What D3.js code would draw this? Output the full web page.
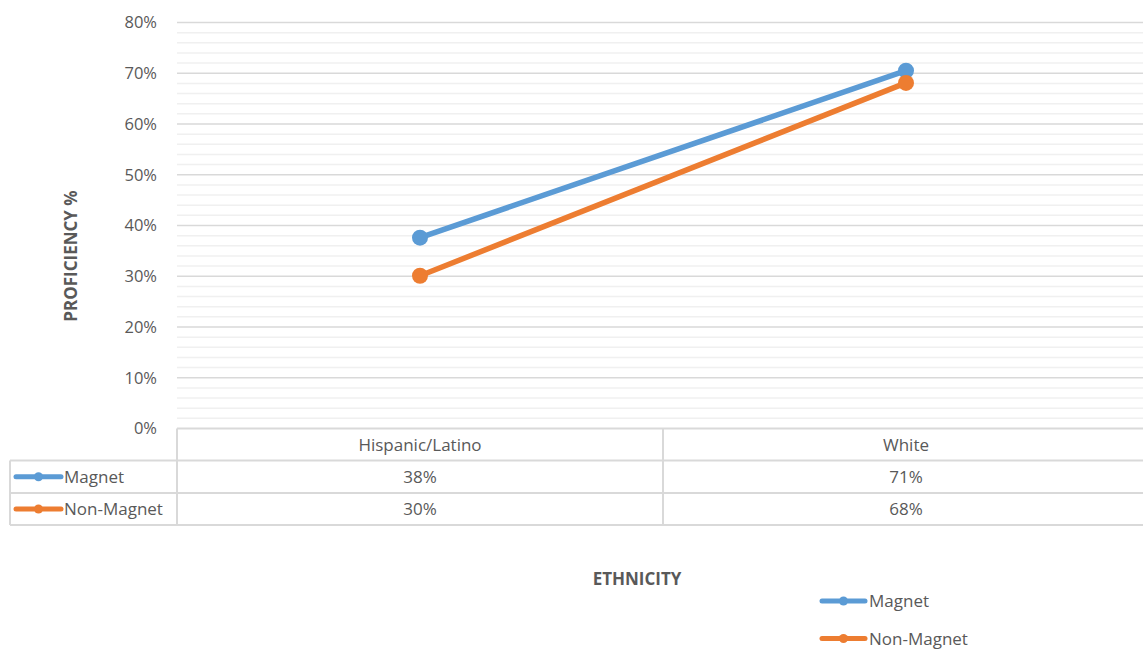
<!DOCTYPE html>
<html><head><meta charset="utf-8">
<script src="https://cdn.jsdelivr.net/npm/d3@7"></script>
<style>body{margin:0;background:#fff;}svg{display:block;font-family:"Open Sans",sans-serif;}</style>
</head><body><svg id="c" width="1143" height="649"></svg>
<script>
const categories = ["Hispanic/Latino", "White"];
const seriesNames = ["Magnet", "Non-Magnet"];
const magnet = [0.376, 0.705];
const nonMagnet = [0.301, 0.681];
const yTicks = [0, 0.1, 0.2, 0.3, 0.4, 0.5, 0.6, 0.7, 0.8];
const colors = ["#5B9BD5", "#ED7D31"];
const series = [magnet, nonMagnet];

const svg = d3.select("#c");
const pLeft = 177, pRight = 1149, pTop = 22.5, pBottom = 428.5;
const x = d3.scaleBand().domain(categories).range([pLeft, pRight]);
const y = d3.scaleLinear().domain([0, 0.8]).range([pBottom, pTop]);
const pct = d3.format(".0%");
const txt = "#595959";
const fs = "17px";

// minor grid
const minor = d3.range(0, 0.8001, 0.02).filter(v => Math.round(v * 100) % 10 !== 0);
svg.append("g").selectAll("line").data(minor).join("line")
  .attr("x1", pLeft).attr("x2", pRight)
  .attr("y1", d => y(d)).attr("y2", d => y(d))
  .attr("stroke", "#f0f0f0").attr("stroke-width", 1.5);
// major grid
svg.append("g").selectAll("line").data(yTicks.filter(d => d > 0)).join("line")
  .attr("x1", pLeft).attr("x2", pRight)
  .attr("y1", d => y(d)).attr("y2", d => y(d))
  .attr("stroke", "#d9d9d9").attr("stroke-width", 1.5);

// y axis labels
const yAxis = d3.axisLeft(y).tickValues(yTicks).tickFormat(pct).tickSize(0).tickPadding(0);
const ga = svg.append("g").attr("transform", `translate(157,0)`).call(yAxis);
ga.select(".domain").remove();
ga.selectAll("text").attr("fill", txt).style("font-size", "16.5px").style("font-family", "'Open Sans',sans-serif");

// y title
svg.append("text").attr("transform", `translate(77,256) rotate(-90)`)
  .attr("text-anchor", "middle").attr("fill", txt)
  .style("font-size", "17px").style("font-weight", "bold").text("PROFICIENCY %");

// lines
const line = d3.line().x((d, i) => x(categories[i]) + x.bandwidth() / 2).y(d => y(d));
series.forEach((s, k) => {
  svg.append("path").datum(s).attr("d", line).attr("fill", "none")
    .attr("stroke", colors[k]).attr("stroke-width", 5.5).attr("stroke-linecap", "round");
  svg.append("g").selectAll("circle").data(s).join("circle")
    .attr("cx", (d, i) => x(categories[i]) + x.bandwidth() / 2).attr("cy", d => y(d))
    .attr("r", 8).attr("fill", colors[k]);
});

// data table
const rowTop = [pBottom, 460.5, 493, 525];
const tg = svg.append("g");
const bc = "#d9d9d9";
tg.append("line").attr("x1", pLeft).attr("x2", pRight).attr("y1", rowTop[0]).attr("y2", rowTop[0]).attr("stroke", bc).attr("stroke-width", 2);
[1, 2, 3].forEach(i => tg.append("line").attr("x1", 10).attr("x2", pRight).attr("y1", rowTop[i]).attr("y2", rowTop[i]).attr("stroke", bc).attr("stroke-width", 2));
tg.append("line").attr("x1", 10).attr("x2", 10).attr("y1", rowTop[1]).attr("y2", rowTop[3]).attr("stroke", bc).attr("stroke-width", 2);
[pLeft, x(categories[1])].forEach(xx => tg.append("line").attr("x1", xx).attr("x2", xx).attr("y1", rowTop[0]).attr("y2", rowTop[3]).attr("stroke", bc).attr("stroke-width", 2));
tg.selectAll("text.h").data(categories).join("text")
  .attr("x", d => x(d) + x.bandwidth() / 2).attr("y", (rowTop[0] + rowTop[1]) / 2 + 6)
  .attr("text-anchor", "middle").attr("fill", txt).style("font-size", fs).text(d => d);
series.forEach((s, k) => {
  const cy = (rowTop[k + 1] + rowTop[k + 2]) / 2;
  tg.append("line").attr("x1", 16).attr("x2", 61).attr("y1", cy).attr("y2", cy)
    .attr("stroke", colors[k]).attr("stroke-width", 5).attr("stroke-linecap", "round");
  tg.append("circle").attr("cx", 38.5).attr("cy", cy).attr("r", 4.5).attr("fill", colors[k]);
  tg.append("text").attr("x", 64).attr("y", cy + 6).attr("fill", txt).style("font-size", fs).text(seriesNames[k]);
  tg.append("g").selectAll("text").data(s).join("text")
    .attr("x", (d, i) => x(categories[i]) + x.bandwidth() / 2).attr("y", cy + 6)
    .attr("text-anchor", "middle").attr("fill", txt).style("font-size", fs).text(d => pct(d));
});

// x title
svg.append("text").attr("x", 637).attr("y", 585).attr("text-anchor", "middle").attr("fill", txt)
  .style("font-size", "17px").style("font-weight", "bold").text("ETHNICITY");

// legend
seriesNames.forEach((n, k) => {
  const cy = 601 + k * 37.5;
  svg.append("line").attr("x1", 822).attr("x2", 865).attr("y1", cy).attr("y2", cy)
    .attr("stroke", colors[k]).attr("stroke-width", 5).attr("stroke-linecap", "round");
  svg.append("circle").attr("cx", 843.5).attr("cy", cy).attr("r", 4.5).attr("fill", colors[k]);
  svg.append("text").attr("x", 869).attr("y", cy + 6).attr("fill", txt).style("font-size", fs).text(n);
});
</script></body></html>
